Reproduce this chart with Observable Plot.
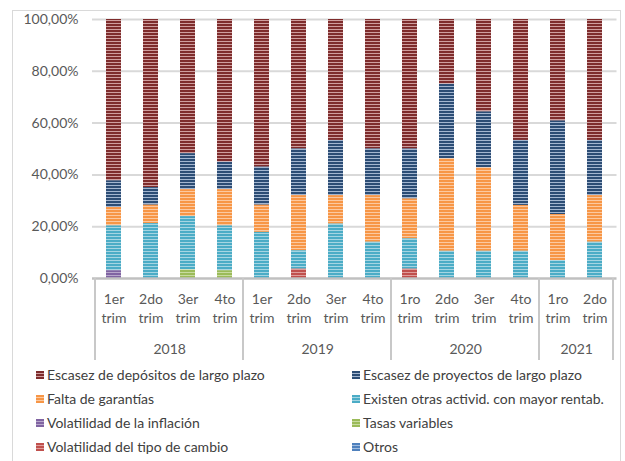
<!DOCTYPE html>
<html>
<head>
<meta charset="utf-8">
<script src="https://cdn.jsdelivr.net/npm/d3@7"></script>
<script src="https://cdn.jsdelivr.net/npm/@observablehq/plot@0.6"></script>
<style>
  html, body { margin: 0; padding: 0; background: #fff; }
  body { width: 625px; height: 461px; position: relative; overflow: hidden; font-family: Lato, "DejaVu Sans", sans-serif; }
  #frame { position: absolute; left: 12px; top: 10px; width: 609px; height: 470px; border: 1px solid #d9d9d9; box-sizing: border-box; }
  #chart { position: absolute; left: 0; top: 0; }
  #legend { position: absolute; left: 0; top: 363px; width: 625px; }
  .li { position: absolute; height: 24px; line-height: 24px; font-size: 14px; color: #404040; white-space: nowrap; display: flex; align-items: center; }
  .sw { width: 8px; height: 8px; margin-right: 3px; display: inline-block; }
</style>
</head>
<body>
<div id="frame"></div>
<div id="chart"></div>
<div id="legend"></div>
<script>
// ---- data ----
const quarterLabels = ["1er\ntrim","2do\ntrim","3er\ntrim","4to\ntrim","1er\ntrim","2do\ntrim","3er\ntrim","4to\ntrim","1ro\ntrim","2do\ntrim","3er\ntrim","4to\ntrim","1ro\ntrim","2do\ntrim"];
const yearOfBar = ["2018","2018","2018","2018","2019","2019","2019","2019","2020","2020","2020","2020","2021","2021"];
const yearLabels = ["2018","2019","2020","2021"];
const yTicks = [0, 20, 40, 60, 80, 100];

const seriesNames = [
  "Escasez de depósitos de largo plazo",
  "Escasez de proyectos de largo plazo",
  "Falta de garantías",
  "Existen otras activid. con mayor rentab.",
  "Volatilidad de la inflación",
  "Tasas variables",
  "Volatilidad del tipo de cambio",
  "Otros"
];
const depositos  = [62.3,64.9,51.8,55.1,57.0,50.0,46.7,50.0,50.0,25.0,35.7,46.7,39.2,46.7];
const proyectos  = [10.3, 6.8,13.9,10.6,14.7,18.0,21.3,18.0,19.3,28.8,21.6,25.1,36.1,21.3];
const garantias  = [ 7.1, 7.1,10.4,14.0,10.5,21.3,11.0,18.0,15.4,35.7,32.2,17.7,17.8,18.0];
const rentab     = [17.3,21.2,20.6,17.3,17.8, 7.1,21.0,14.0,11.7,10.5,10.5,10.5, 6.9,14.0];
const inflacion  = [ 3.0, 0, 0, 0, 0, 0, 0, 0, 0, 0, 0, 0, 0, 0];
const tasas      = [ 0, 0, 3.3, 3.0, 0, 0, 0, 0, 0, 0, 0, 0, 0, 0];
const tipoCambio = [ 0, 0, 0, 0, 0, 3.6, 0, 0, 3.6, 0, 0, 0, 0, 0];
const otros      = [ 0, 0, 0, 0, 0, 0, 0, 0, 0, 0, 0, 0, 0, 0];
const seriesValues = [depositos, proyectos, garantias, rentab, inflacion, tasas, tipoCambio, otros];

// colors: [dark, light] stripe pairs
const seriesColors = [
  ["#7e2c2c", "#cf9e9e"],
  ["#2c4d75", "#a3b6d0"],
  ["#f79646", "#fcc9a0"],
  ["#4bacc6", "#a5d5e2"],
  ["#8064a2", "#b8a7cc"],
  ["#9bbb59", "#c8dba0"],
  ["#c0504d", "#df9e9c"],
  ["#4f81bd", "#a2bddf"]
];
// bottom -> top stacking order
const stackOrder = [
  "Volatilidad de la inflación",
  "Tasas variables",
  "Volatilidad del tipo de cambio",
  "Otros",
  "Existen otras activid. con mayor rentab.",
  "Falta de garantías",
  "Escasez de proyectos de largo plazo",
  "Escasez de depósitos de largo plazo"
];

const keys = quarterLabels.map((q, i) => yearOfBar[i] + "|" + i);
const rows = [];
seriesNames.forEach((s, si) => {
  seriesValues[si].forEach((v, i) => {
    rows.push({key: keys[i], series: s, value: v, pat: `url(#pat${si})`});
  });
});

// ---- layout ----
const W = 625, H = 363;
const mL = 92, mR = 8.5, mT = 19, mB = H - 278;
const step = (W - mL - mR) / keys.length;

// year label anchors: middle of each group
const yearRows = yearLabels.map(y => {
  const idx = keys.map((k, i) => i).filter(i => yearOfBar[i] === y);
  const mid = idx[idx.length / 2 - 1];
  return {year: y, key: keys[mid]};
});

const chart = Plot.plot({
  width: W,
  height: H,
  marginLeft: mL,
  marginRight: mR,
  marginTop: mT,
  marginBottom: mB,
  style: {fontFamily: "Lato, 'DejaVu Sans', sans-serif", fontSize: "14px", color: "#595959", background: "transparent"},
  x: {domain: keys, paddingInner: 0.6, paddingOuter: 0.3, label: null},
  y: {domain: [0, 100], label: null},
  color: {type: "identity"},
  marks: [
    Plot.gridY({ticks: yTicks.slice(1), stroke: "#d9d9d9", strokeOpacity: 1, strokeWidth: 2}),
    Plot.barY(rows, {x: "key", y: "value", z: "series", fill: "pat", order: stackOrder}),
    Plot.ruleY([0], {stroke: "#c0c0c0", strokeWidth: 2.5}),
    Plot.axisY({ticks: yTicks, tickSize: 0, tickPadding: 14, fontSize: 14, color: "#595959", label: null,
      tickFormat: d => d.toFixed(2).replace(".", ",") + "%"}),
    Plot.axisX({tickSize: 0, tickPadding: 13, fontSize: 14, color: "#595959", lineHeight: 1.3, label: null,
      tickFormat: k => quarterLabels[keys.indexOf(k)]}),
    Plot.text(yearRows, {x: "key", text: "year", dx: step / 2, frameAnchor: "bottom", dy: 75, fontSize: 14, fill: "#595959"})
  ]
});

// stripe patterns
const svg = d3.select(chart);
const defs = svg.insert("defs", ":first-child");
seriesColors.forEach(([dark, light], i) => {
  const p = defs.append("pattern").attr("id", `pat${i}`).attr("patternUnits", "userSpaceOnUse")
    .attr("width", 6).attr("height", 3);
  p.append("rect").attr("width", 6).attr("height", 3).attr("fill", light);
  p.append("rect").attr("width", 6).attr("height", 2).attr("fill", dark);
});

// category separators at year-group boundaries
const xs = chart.scale("x");
const half = (xs.step - xs.bandwidth) / 2;
const bounds = [];
yearLabels.forEach(y => {
  const idx = keys.map((k, i) => i).filter(i => yearOfBar[i] === y);
  bounds.push(xs.apply(keys[idx[0]]) - half);
});
bounds.push(xs.apply(keys[keys.length - 1]) + xs.bandwidth + half);
svg.append("g").selectAll("line").data(bounds).join("line")
  .attr("x1", d => d).attr("x2", d => d)
  .attr("y1", 278).attr("y2", 360)
  .attr("stroke", "#c8c8c8").attr("stroke-width", 2);

document.getElementById("chart").appendChild(chart);

// legend
const legend = document.getElementById("legend");
seriesNames.forEach((s, i) => {
  const col = i % 2, row = Math.floor(i / 2);
  const el = document.createElement("div");
  el.className = "li";
  el.style.left = (col === 0 ? 36 : 352) + "px";
  el.style.top = (row * 24) + "px";
  const sw = document.createElement("span");
  sw.className = "sw";
  const [dark, light] = seriesColors[i];
  sw.style.background = `repeating-linear-gradient(to bottom, ${dark} 0px, ${dark} 2px, ${light} 2px, ${light} 3px)`;
  el.appendChild(sw);
  el.appendChild(document.createTextNode(s));
  legend.appendChild(el);
});
</script>
</body>
</html>
